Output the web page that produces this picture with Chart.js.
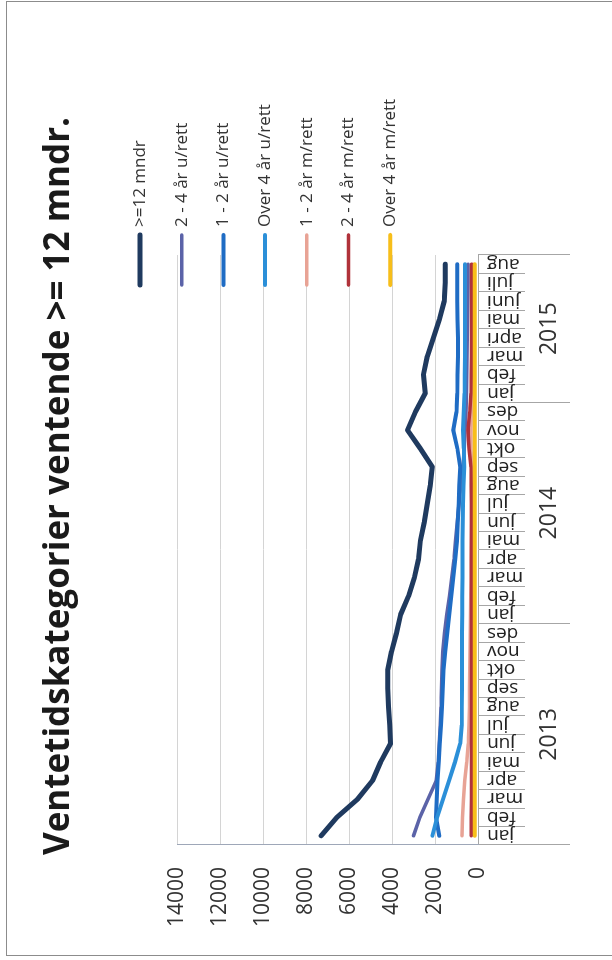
<!DOCTYPE html>
<html lang="no">
<head>
<meta charset="utf-8">
<title>Ventetidskategorier ventende >= 12 mndr.</title>
<script src="https://cdn.jsdelivr.net/npm/chart.js@4.4.1/dist/chart.umd.min.js"></script>
<style>
  html, body { margin: 0; padding: 0; background: #fff; }
  body { width: 612px; height: 960px; position: relative; overflow: hidden; }
  /* ramme rundt lysbildet */
  #ramme { position: absolute; left: 6px; top: 1px; width: 640px; height: 953px;
           border: 1px solid #8c8c8c; border-right: none; }
  /* grafen tegnes liggende og snus 90 grader */
  #snudd { position: absolute; left: 0; top: 0; width: 960px; height: 612px;
           transform-origin: 0 0; transform: translate(0, 960px) rotate(-90deg); }
</style>
</head>
<body>
<div id="ramme"></div>
<div id="snudd"><canvas id="grafVentetid" width="960" height="612"></canvas></div>
<script>
/* global Chart */

// Kategoriakse: måneder og år
var maaneder = [
  "jan", "feb", "mar", "apr", "mai", "jun", "jul", "aug", "sep", "okt", "nov", "des",
  "jan", "feb", "mar", "apr", "mai", "jun", "jul", "aug", "sep", "okt", "nov", "des",
  "jan", "feb", "mar", "apri", "mai", "juni", "juli", "aug"
];
var aar = ["2013", "2014", "2015"];
var maanederPerAar = [12, 12, 8];

// Verdiakse
var verdiMaks = 14000;
var verdiSteg = 2000;

// Antall ventende per kategori
var over12mndr = [7300, 6560, 5590, 4900, 4530, 4070, 4110, 4160, 4200, 4200, 4020, 3790,
  3600, 3230, 2960, 2770, 2680, 2500, 2360, 2220, 2125, 2680, 3280, 2910,
  2450, 2540, 2360, 2080, 1800, 1570, 1525, 1525];
var uRett2til4 = [3000, 2700, 2320, 1940, 1850, 1800, 1760, 1720, 1700, 1680, 1640, 1560,
  1450, 1330, 1220, 1120, 1050, 960, 880, 800, 700, 640, 600, 560,
  540, 520, 510, 500, 490, 480, 470, 460];
var uRett1til2 = [1800, 1950, 1920, 1880, 1830, 1780, 1720, 1680, 1640, 1600, 1520, 1430,
  1340, 1240, 1150, 1060, 980, 940, 900, 870, 830, 960, 1150, 1000,
  960, 950, 930, 930, 950, 960, 970, 970];
var uRettOver4 = [2120, 1900, 1620, 1340, 1070, 830, 760, 750, 740, 740, 740, 740,
  730, 730, 720, 720, 720, 710, 700, 680, 640, 660, 700, 660,
  630, 620, 610, 600, 600, 600, 600, 600];
var mRett1til2 = [740, 720, 680, 620, 520, 450, 420, 400, 390, 380, 370, 360,
  350, 340, 330, 320, 310, 300, 300, 300, 300, 320, 330, 310,
  300, 290, 280, 280, 270, 270, 260, 260];
var mRett2til4 = [310, 310, 300, 300, 300, 300, 300, 300, 300, 300, 300, 300,
  300, 300, 300, 300, 300, 300, 300, 310, 330, 420, 460, 380,
  320, 310, 300, 300, 300, 300, 300, 300];
var mRettOver4 = [150, 150, 150, 150, 150, 150, 150, 150, 150, 150, 150, 150,
  150, 150, 150, 150, 150, 150, 150, 150, 150, 150, 150, 150,
  150, 150, 150, 150, 150, 150, 150, 150];

var FONT = "'Open Sans', 'Liberation Sans', sans-serif";
var TEKST = "#333333";
var LINJE = "#a6a6a6";

// Årsgrenser og midtpunkter for den nederste aksen
var aarGrenser = [0];
var aarMidt = [];
maanederPerAar.forEach(function (n, i) {
  var start = aarGrenser[i];
  aarMidt.push(start + n / 2);
  aarGrenser.push(start + n);
});

function serie(navn, data, farge, bredde, rekkefolge) {
  return {
    label: navn,
    data: data,
    borderColor: farge,
    backgroundColor: farge,
    borderWidth: bredde,
    borderCapStyle: "round",
    borderJoinStyle: "round",
    pointRadius: 0,
    tension: 0,
    fill: false,
    order: rekkefolge
  };
}

// Forklaringen står delvis inne i plottet, så den tegnes for hånd
var forklaring = {
  id: "forklaring",
  afterDraw: function (chart, args, opts) {
    var ctx = chart.ctx;
    var area = chart.chartArea;
    var x0 = area.right + opts.innrykk;
    var y0 = area.top + opts.forskyvning;
    ctx.save();
    ctx.font = opts.storrelse + "px " + FONT;
    ctx.textAlign = "left";
    ctx.textBaseline = "middle";
    chart.data.datasets.forEach(function (ds, i) {
      var y = y0 + i * opts.avstand;
      ctx.strokeStyle = ds.borderColor;
      ctx.lineWidth = ds.borderWidth;
      ctx.lineCap = "round";
      ctx.beginPath();
      ctx.moveTo(x0, y);
      ctx.lineTo(x0 + opts.strek, y);
      ctx.stroke();
      ctx.fillStyle = opts.farge;
      ctx.fillText(ds.label, x0 + opts.strek + 8, y);
    });
    ctx.restore();
  }
};

document.addEventListener("DOMContentLoaded", function () {
  var canvas = document.getElementById("grafVentetid");
  var ctx = canvas.getContext("2d");

  new Chart(ctx, {
    type: "line",
    data: {
      labels: maaneder,
      datasets: [
        serie(">=12 mndr", over12mndr, "#1f3a5f", 5, 7),
        serie("2 - 4 år u/rett", uRett2til4, "#5b63a8", 3.5, 6),
        serie("1 - 2 år u/rett", uRett1til2, "#1f6cc4", 4, 5),
        serie("Over 4 år u/rett", uRettOver4, "#2b8fd8", 4, 4),
        serie("1 - 2 år m/rett", mRett1til2, "#e8a395", 3.5, 3),
        serie("2 - 4 år m/rett", mRett2til4, "#b0323a", 3.5, 2),
        serie("Over 4 år m/rett", mRettOver4, "#f7be1a", 4, 1)
      ]
    },
    options: {
      responsive: false,
      animation: false,
      devicePixelRatio: 1,
      layout: { padding: { left: 20, right: 32, top: 0, bottom: 42 } },
      plugins: {
        legend: { display: false },
        tooltip: { enabled: false },
        title: {
          display: true,
          text: "Ventetidskategorier ventende >= 12 mndr.",
          color: "#1a1a1a",
          font: { family: FONT, size: 35, weight: "bold" },
          padding: { top: 38, bottom: 97 }
        },
        forklaring: {
          innrykk: -30,
          forskyvning: -37,
          avstand: 41.7,
          strek: 50,
          storrelse: 17,
          farge: "#333333"
        }
      },
      scales: {
        x: {
          type: "category",
          position: "bottom",
          offset: true,
          grid: {
            offset: true,
            drawOnChartArea: false,
            drawTicks: true,
            tickLength: 47,
            color: LINJE
          },
          border: { display: true, color: LINJE },
          ticks: {
            autoSkip: false,
            minRotation: 90,
            maxRotation: 90,
            padding: -38,
            color: "#222222",
            font: { family: FONT, size: 19 }
          },
          afterFit: function (s) { s.height = 47; }
        },
        aar: {
          axis: "x",
          type: "linear",
          position: "bottom",
          weight: 1,
          min: 0,
          max: aarGrenser[aarGrenser.length - 1],
          afterBuildTicks: function (s) {
            s.ticks = aarGrenser.concat(aarMidt)
              .sort(function (a, b) { return a - b; })
              .map(function (v) { return { value: v }; });
          },
          grid: {
            drawOnChartArea: false,
            drawTicks: true,
            tickLength: 45,
            color: function (c) {
              return c.tick && aarGrenser.indexOf(c.tick.value) >= 0 ? LINJE : "rgba(0,0,0,0)";
            }
          },
          border: { display: false },
          ticks: {
            autoSkip: false,
            maxRotation: 0,
            padding: -34,
            color: TEKST,
            font: { family: FONT, size: 23 },
            callback: function (v) {
              var i = aarMidt.indexOf(v);
              return i >= 0 ? aar[i] : "";
            }
          },
          afterFit: function (s) { s.height = 45; }
        },
        y: {
          min: 0,
          max: verdiMaks,
          position: "left",
          ticks: {
            stepSize: verdiSteg,
            padding: 22,
            color: TEKST,
            font: { family: FONT, size: 21 },
            callback: function (v) { return String(v); }
          },
          grid: { color: "#d4d4d4", drawTicks: false },
          border: { display: true, color: "#9ea7b8" },
          afterFit: function (s) { s.width = 95; }
        },
        // tom akse som holder av plass til forklaringen
        plass: {
          axis: "y",
          position: "right",
          display: true,
          ticks: { display: false },
          grid: { display: false },
          border: { display: false },
          afterFit: function (s) { s.width = 223; }
        }
      }
    },
    plugins: [forklaring]
  });
});
</script>
</body>
</html>
